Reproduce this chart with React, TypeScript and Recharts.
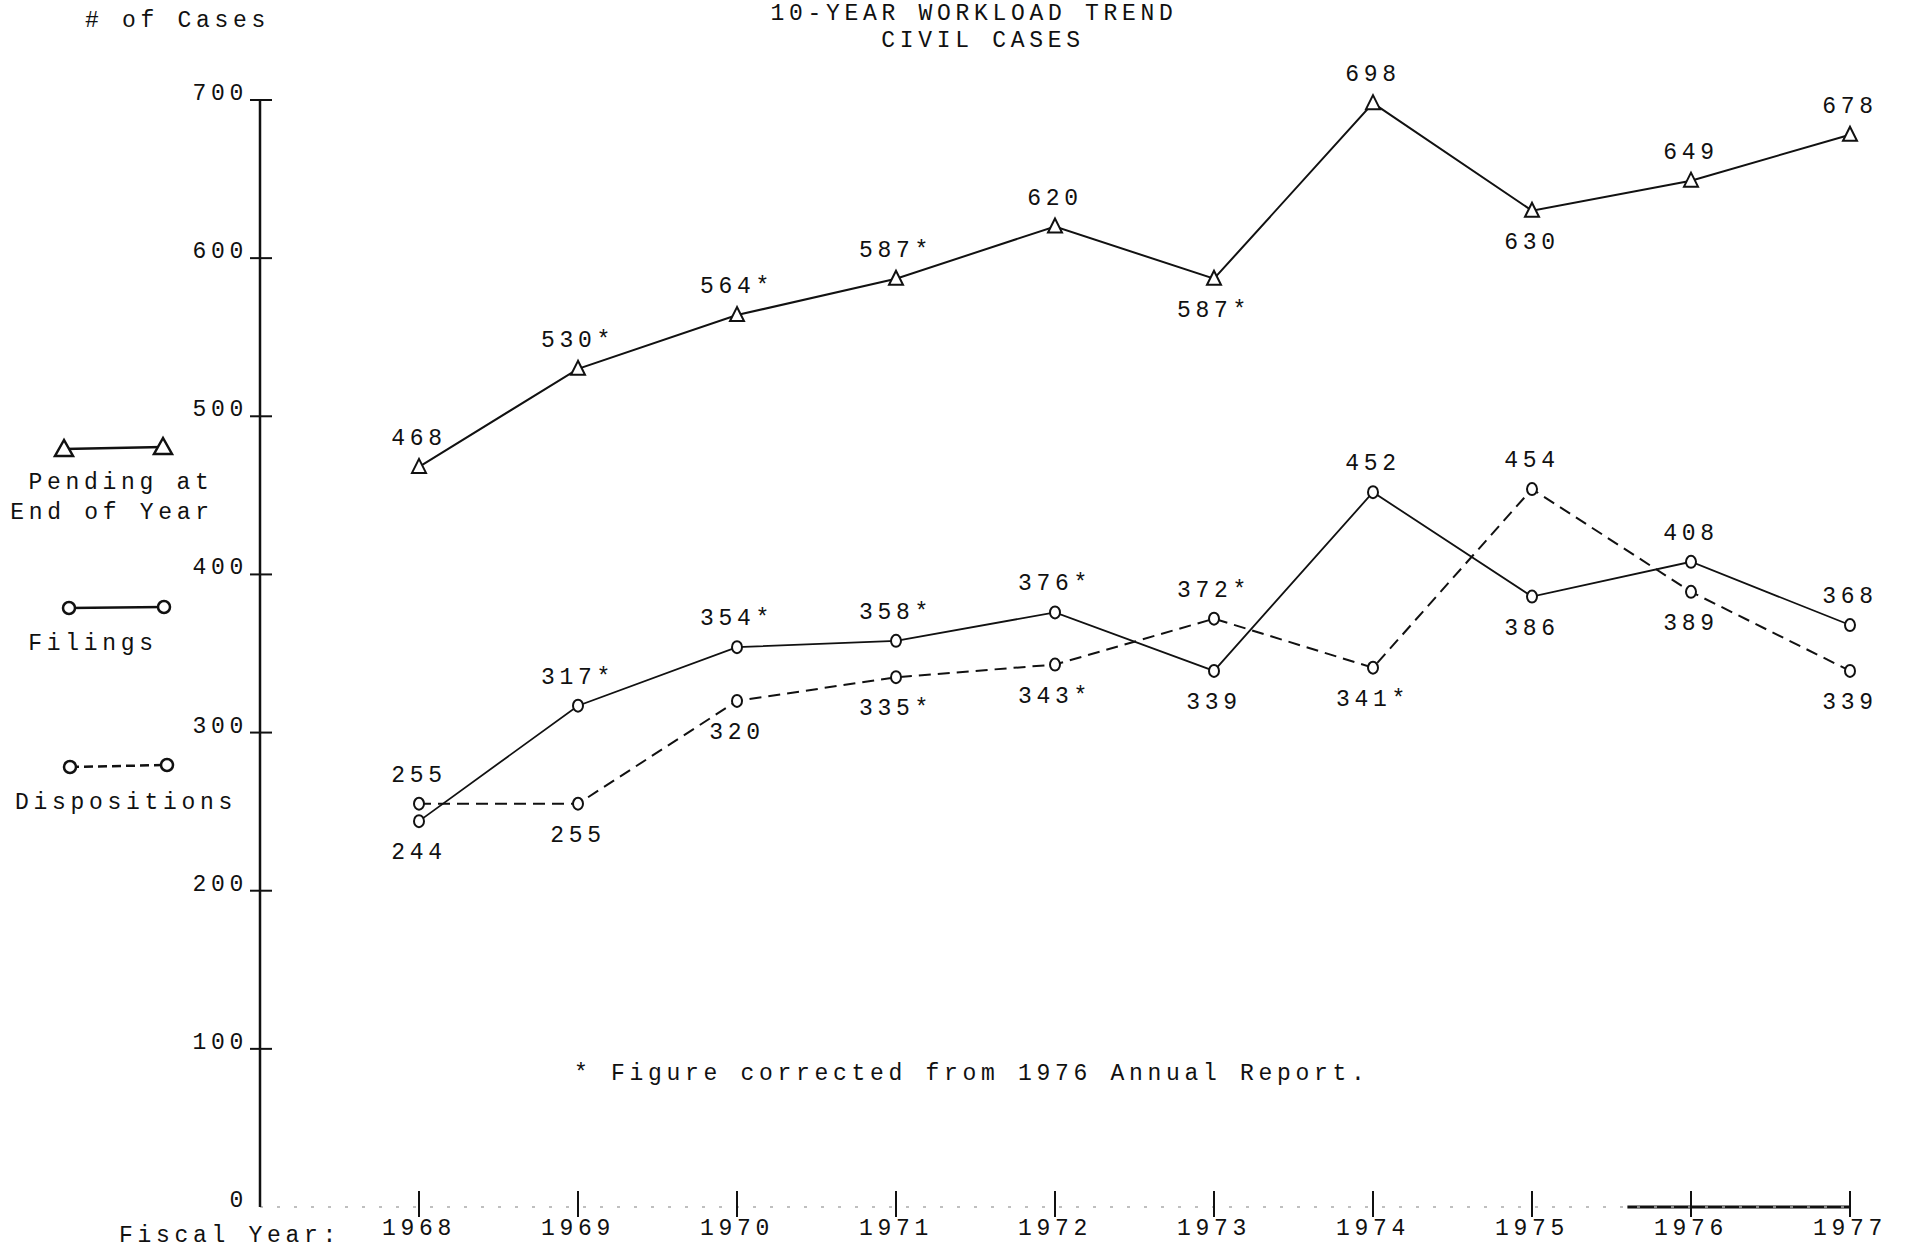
import { LineChart, Line, XAxis, YAxis, ReferenceLine } from 'recharts';

const years = [1968, 1969, 1970, 1971, 1972, 1973, 1974, 1975, 1976, 1977];
const pending = [468, 530, 564, 587, 620, 587, 698, 630, 649, 678];
const filings = [244, 317, 354, 358, 376, 339, 452, 386, 408, 368];
const dispositions = [255, 255, 320, 335, 343, 372, 341, 454, 389, 339];
const countTicks = [0, 100, 200, 300, 400, 500, 600, 700];

// years whose figure was corrected (shown with *)
const pendingCorrected = [1969, 1970, 1971, 1973];
const filingsCorrected = [1969, 1970, 1971, 1972];
const dispositionsCorrected = [1971, 1972, 1973, 1974];

// years whose value label sits under the point
const pendingBelow = [1973, 1975];
const filingsBelow = [1968, 1973, 1975];
const dispositionsBelow = [1969, 1970, 1971, 1972, 1974, 1976, 1977];

const data = years.map((year, i) => ({
    year,
    pending: pending[i],
    filings: filings[i],
    dispositions: dispositions[i],
}));

const INK = '#111';
const typewriter = {
    fontFamily: '"Liberation Mono", "DejaVu Sans Mono", monospace',
    fontSize: 23,
    letterSpacing: 4.7,
    fill: INK,
};

function makeLabel(values: number[], corrected: number[], below: number[]) {
    return (props: any) => {
        const { x, y, index } = props;
        const year = years[index];
        const text = `${values[index]}${corrected.includes(year) ? '*' : ''}`;
        const isBelow = below.includes(year);
        return (
            <text key={`lbl-${index}`} x={x} y={isBelow ? y + 38 : y - 22} textAnchor="middle" style={typewriter}>
                {text}
            </text>
        );
    };
}

const TriangleDot = (props: any) => {
    const { cx, cy, index } = props;
    return (
        <path
            key={`tri-${index}`}
            d={`M${cx},${cy - 8} L${cx - 7},${cy + 6} L${cx + 7},${cy + 6} Z`}
            fill="#fff"
            stroke={INK}
            strokeWidth={2}
        />
    );
};

const CircleDot = (props: any) => {
    const { cx, cy, index, dataKey } = props;
    return <ellipse key={`${dataKey}-${index}`} cx={cx} cy={cy} rx={5} ry={6} fill="#fff" stroke={INK} strokeWidth={2} />;
};

const YearTick = (props: any) => {
    const { x, y, payload } = props;
    return (
        <g>
            <line x1={x} x2={x} y1={y - 16} y2={y + 10} stroke={INK} strokeWidth={2} />
            <text x={x} y={y + 28} textAnchor="middle" style={typewriter}>
                {payload.value}
            </text>
        </g>
    );
};

const CountTick = (props: any) => {
    const { x, y, payload } = props;
    return (
        <g>
            {payload.value !== 0 && <line x1={x - 10} x2={x + 12} y1={y} y2={y} stroke={INK} strokeWidth={2} />}
            <text x={x - 12} y={y} textAnchor="end" style={typewriter}>
                {payload.value}
            </text>
        </g>
    );
};

export default function App() {
    return (
        <div style={{ position: 'absolute', left: 0, top: 0, width: 1906, height: 1253, background: '#fff' }}>
            <LineChart width={1906} height={1253} data={data} margin={{ top: 100, right: 56, bottom: 6, left: 180 }}>
                <XAxis
                    dataKey="year"
                    type="number"
                    domain={[1967, 1977]}
                    ticks={years}
                    height={40}
                    tickSize={0}
                    tickMargin={0}
                    tick={<YearTick />}
                    axisLine={{ stroke: '#aaa', strokeWidth: 1.5, strokeDasharray: '3 14' }}
                />
                <YAxis
                    type="number"
                    domain={[0, 700]}
                    ticks={countTicks}
                    width={80}
                    tickSize={0}
                    tickMargin={0}
                    tick={<CountTick />}
                    axisLine={{ stroke: INK, strokeWidth: 2.5 }}
                />
                <ReferenceLine
                    segment={[{ x: 1975.6, y: 0 }, { x: 1977, y: 0 }]}
                    stroke={INK}
                    strokeWidth={3}
                />
                <Line
                    dataKey="pending"
                    stroke={INK}
                    strokeWidth={2}
                    dot={TriangleDot}
                    label={makeLabel(pending, pendingCorrected, pendingBelow)}
                    isAnimationActive={false}
                />
                <Line
                    dataKey="filings"
                    stroke={INK}
                    strokeWidth={1.8}
                    dot={CircleDot}
                    label={makeLabel(filings, filingsCorrected, filingsBelow)}
                    isAnimationActive={false}
                />
                <Line
                    dataKey="dispositions"
                    stroke={INK}
                    strokeWidth={2}
                    strokeDasharray="12 7"
                    dot={CircleDot}
                    label={makeLabel(dispositions, dispositionsCorrected, dispositionsBelow)}
                    isAnimationActive={false}
                />
            </LineChart>
            <svg
                width={1906}
                height={1253}
                style={{ position: 'absolute', left: 0, top: 0, pointerEvents: 'none' }}
            >
                <text x={974} y={20} textAnchor="middle" style={typewriter}>10-YEAR WORKLOAD TREND</text>
                <text x={983} y={47} textAnchor="middle" style={typewriter}>CIVIL CASES</text>
                <text x={85} y={27} style={typewriter}># of Cases</text>

                {/* legend */}
                <line x1={64} y1={449} x2={163} y2={447} stroke={INK} strokeWidth={2.5} />
                <path d="M64,440 L55,456 L73,456 Z" fill="#fff" stroke={INK} strokeWidth={2.5} />
                <path d="M163,438 L154,454 L172,454 Z" fill="#fff" stroke={INK} strokeWidth={2.5} />
                <text x={121} y={489} textAnchor="middle" style={typewriter}>Pending at</text>
                <text x={112} y={519} textAnchor="middle" style={typewriter}>End of Year</text>

                <line x1={69} y1={608} x2={164} y2={607} stroke={INK} strokeWidth={2.5} />
                <ellipse cx={69} cy={608} rx={6} ry={6} fill="#fff" stroke={INK} strokeWidth={2.5} />
                <ellipse cx={164} cy={607} rx={6} ry={6} fill="#fff" stroke={INK} strokeWidth={2.5} />
                <text x={93} y={650} textAnchor="middle" style={typewriter}>Filings</text>

                <line x1={70} y1={767} x2={167} y2={765} stroke={INK} strokeWidth={2.5} strokeDasharray="9 5" />
                <ellipse cx={70} cy={767} rx={6} ry={6} fill="#fff" stroke={INK} strokeWidth={2.5} />
                <ellipse cx={167} cy={765} rx={6} ry={6} fill="#fff" stroke={INK} strokeWidth={2.5} />
                <text x={126} y={809} textAnchor="middle" style={typewriter}>Dispositions</text>

                <text x={574} y={1080} style={typewriter}>* Figure corrected from 1976 Annual Report.</text>
                <text x={230} y={1242} textAnchor="middle" style={typewriter}>Fiscal Year:</text>
            </svg>
        </div>
    );
}
